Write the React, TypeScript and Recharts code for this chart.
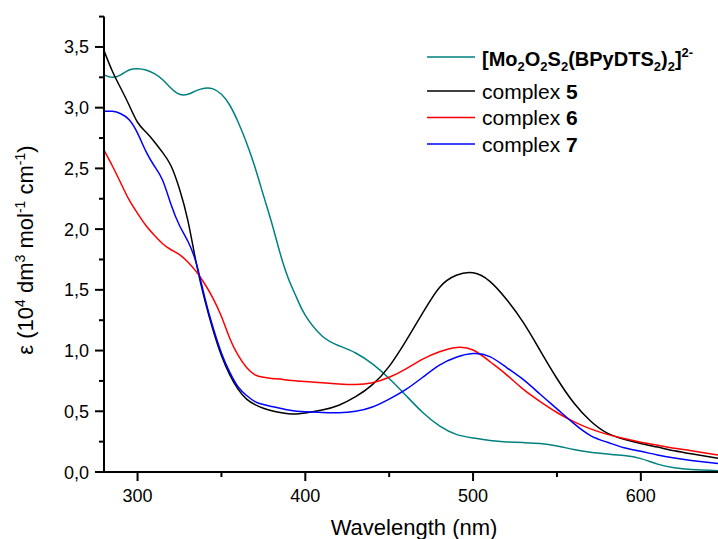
import React from 'react';
import { LineChart, Line, XAxis, YAxis } from 'recharts';

const wavelengths = [280, 285, 290, 295, 300, 305, 310, 315, 320, 325, 330, 335, 340, 345, 350, 355, 360, 365, 370, 375, 380, 385, 390, 395, 400, 410, 420, 430, 440, 450, 460, 470, 480, 490, 500, 510, 520, 530, 540, 550, 560, 570, 580, 590, 600, 610, 620, 630, 646];

const mo2o2s2 = [3.27, 3.25, 3.27, 3.31, 3.32, 3.31, 3.28, 3.23, 3.16, 3.11, 3.11, 3.14, 3.16, 3.155, 3.11, 3.02, 2.88, 2.71, 2.51, 2.28, 2.05, 1.8, 1.59, 1.43, 1.29, 1.12, 1.04, 0.98, 0.89, 0.77, 0.63, 0.49, 0.38, 0.31, 0.28, 0.26, 0.248, 0.242, 0.235, 0.215, 0.185, 0.162, 0.148, 0.135, 0.11, 0.065, 0.035, 0.02, 0.01];

const complex5 = [3.47, 3.3, 3.16, 3.02, 2.88, 2.8, 2.72, 2.63, 2.52, 2.33, 2.07, 1.72, 1.42, 1.17, 0.96, 0.8, 0.68, 0.6, 0.555, 0.525, 0.505, 0.49, 0.48, 0.478, 0.485, 0.51, 0.55, 0.62, 0.72, 0.87, 1.08, 1.31, 1.52, 1.62, 1.64, 1.57, 1.42, 1.23, 1.0, 0.77, 0.57, 0.42, 0.32, 0.27, 0.235, 0.205, 0.175, 0.15, 0.113];

const complex6 = [2.65, 2.52, 2.38, 2.24, 2.13, 2.03, 1.95, 1.88, 1.83, 1.79, 1.73, 1.65, 1.55, 1.43, 1.28, 1.1, 0.96, 0.86, 0.8, 0.78, 0.77, 0.765, 0.755, 0.75, 0.745, 0.735, 0.725, 0.72, 0.735, 0.78, 0.85, 0.93, 0.99, 1.025, 1.005, 0.91, 0.8, 0.68, 0.58, 0.49, 0.415, 0.355, 0.31, 0.275, 0.245, 0.22, 0.195, 0.175, 0.14];

const complex7 = [2.97, 2.97, 2.95, 2.9, 2.79, 2.64, 2.52, 2.4, 2.2, 2.03, 1.9, 1.72, 1.44, 1.19, 0.98, 0.82, 0.7, 0.63, 0.58, 0.555, 0.54, 0.525, 0.51, 0.5, 0.497, 0.49, 0.488, 0.5, 0.535, 0.6, 0.68, 0.78, 0.88, 0.945, 0.975, 0.95, 0.86, 0.76, 0.64, 0.52, 0.4, 0.3, 0.245, 0.2, 0.17, 0.14, 0.115, 0.095, 0.07];

const xTicks = [300, 350, 400, 450, 500, 550, 600];
const yTicks = [0, 0.25, 0.5, 0.75, 1, 1.25, 1.5, 1.75, 2, 2.25, 2.5, 2.75, 3, 3.25, 3.5, 3.75];

const data = wavelengths.map((w, i) => ({
  w,
  mo: mo2o2s2[i],
  c5: complex5[i],
  c6: complex6[i],
  c7: complex7[i],
}));

const FONT = 'Liberation Sans, Arial, sans-serif';

const XTick = (props: any) => {
  const { x, y, payload } = props;
  const v = payload.value;
  const major = v % 100 === 0;
  return (
    <g>
      <line x1={x} x2={x} y1={y} y2={y + (major ? 9 : 5)} stroke="#000" strokeWidth={2} />
      {major && (
        <text x={x} y={y + 29.5} textAnchor="middle" fontSize={18} fill="#000" fontFamily={FONT}>
          {v}
        </text>
      )}
    </g>
  );
};

const YTick = (props: any) => {
  const { x, y, payload } = props;
  const v = payload.value;
  const major = Math.abs(v * 2 - Math.round(v * 2)) < 1e-6;
  return (
    <g>
      <line x1={x} x2={x - (major ? 9 : 5)} y1={y} y2={y} stroke="#000" strokeWidth={2} />
      {major && (
        <text x={x - 15} y={y + 6.5} textAnchor="end" fontSize={18} fill="#000" fontFamily={FONT}>
          {v.toFixed(1).replace('.', ',')}
        </text>
      )}
    </g>
  );
};

export default function App() {
  return (
    <div style={{ position: 'absolute', left: 0, top: 0, width: 718, height: 539, background: '#fff' }}>
      <LineChart
        width={718}
        height={539}
        data={data}
        margin={{ top: 16.6, right: 0, bottom: 0, left: 0 }}
      >
        <XAxis
          dataKey="w"
          type="number"
          domain={[280, 646]}
          allowDataOverflow
          ticks={xTicks}
          interval={0}
          tick={<XTick />}
          tickLine={false}
          tickSize={0}
          tickMargin={0}
          height={67}
          axisLine={{ stroke: '#000', strokeWidth: 2 }}
        />
        <YAxis
          type="number"
          domain={[0, 3.75]}
          allowDataOverflow
          ticks={yTicks}
          interval={0}
          tick={<YTick />}
          tickLine={false}
          tickSize={0}
          tickMargin={0}
          width={104}
          axisLine={{ stroke: '#000', strokeWidth: 2 }}
        />
        <Line type="natural" dataKey="mo" stroke="#008080" strokeWidth={1.5} dot={false} isAnimationActive={false} />
        <Line type="natural" dataKey="c5" stroke="#000000" strokeWidth={1.5} dot={false} isAnimationActive={false} />
        <Line type="natural" dataKey="c6" stroke="#ff0000" strokeWidth={1.5} dot={false} isAnimationActive={false} />
        <Line type="natural" dataKey="c7" stroke="#0000ff" strokeWidth={1.5} dot={false} isAnimationActive={false} />

        <g fontFamily={FONT} fill="#000">
          <text x={414} y={535} textAnchor="middle" fontSize={22}>Wavelength (nm)</text>
          <text x={33} y={250} textAnchor="middle" fontSize={22} transform="rotate(-90, 33, 250)">
            ε (10<tspan dy={-8} fontSize={14}>4</tspan>
            <tspan dy={8}> dm</tspan>
            <tspan dy={-8} fontSize={14}>3</tspan>
            <tspan dy={8}> mol</tspan>
            <tspan dy={-8} fontSize={14}>-1</tspan>
            <tspan dy={8}> cm</tspan>
            <tspan dy={-8} fontSize={14}>-1</tspan>
            <tspan dy={8}>)</tspan>
          </text>

          <line x1={427} x2={475} y1={57} y2={57} stroke="#008080" strokeWidth={1.5} />
          <text x={482} y={66} fontSize={20} fontWeight="bold">
            [Mo<tspan dy={5} fontSize={13}>2</tspan>
            <tspan dy={-5}>O</tspan>
            <tspan dy={5} fontSize={13}>2</tspan>
            <tspan dy={-5}>S</tspan>
            <tspan dy={5} fontSize={13}>2</tspan>
            <tspan dy={-5}>(BPyDTS</tspan>
            <tspan dy={5} fontSize={13}>2</tspan>
            <tspan dy={-5}>)</tspan>
            <tspan dy={5} fontSize={13}>2</tspan>
            <tspan dy={-5}>]</tspan>
            <tspan dy={-9} fontSize={13}>2-</tspan>
          </text>

          <line x1={427} x2={475} y1={91} y2={91} stroke="#000000" strokeWidth={1.5} />
          <text x={482} y={98.5} fontSize={21}>complex <tspan fontWeight="bold">5</tspan></text>

          <line x1={427} x2={475} y1={117.5} y2={117.5} stroke="#ff0000" strokeWidth={1.5} />
          <text x={482} y={125} fontSize={21}>complex <tspan fontWeight="bold">6</tspan></text>

          <line x1={427} x2={475} y1={144} y2={144} stroke="#0000ff" strokeWidth={1.5} />
          <text x={482} y={151.5} fontSize={21}>complex <tspan fontWeight="bold">7</tspan></text>
        </g>
      </LineChart>
    </div>
  );
}
